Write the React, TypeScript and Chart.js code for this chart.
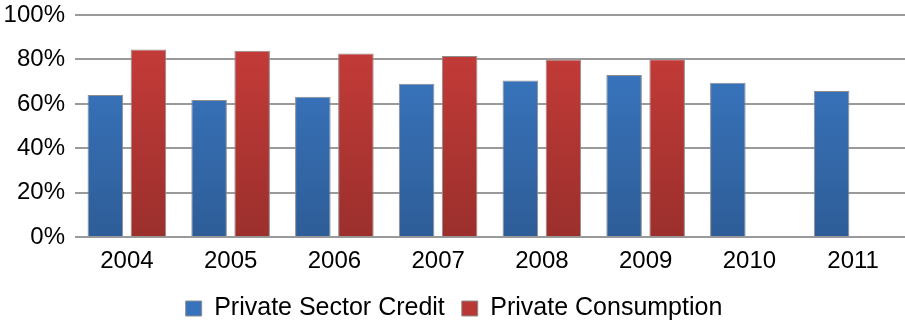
import React, { useEffect, useRef } from "react";
import { Chart, registerables } from "chart.js";

Chart.register(...registerables);

const categories = ["2004", "2005", "2006", "2007", "2008", "2009", "2010", "2011"];
const creditValues = [64.0, 61.7, 63.2, 69.1, 70.5, 73.0, 69.5, 65.8];
const consumptionValues = [84.5, 83.9, 82.7, 81.5, 80.0, 80.1, null, null];
const yTicks = [0, 20, 40, 60, 80, 100];
const seriesNames = ["Private Sector Credit", "Private Consumption"];

function makeGradient(ctx: any, area: any, top: string, bottom: string) {
  const g = ctx.createLinearGradient(0, area.top, 0, area.bottom);
  g.addColorStop(0, top);
  g.addColorStop(1, bottom);
  return g;
}

export default function App() {
  const ref = useRef<HTMLCanvasElement | null>(null);
  useEffect(() => {
    if (!ref.current) return;
    const family = "'Liberation Sans', Arial, sans-serif";
    const font = { family, size: 24 };
    const legendSwatch = ["#3773bd", "#b93835"];
    const chart = new Chart(ref.current, {
      type: "bar",
      data: {
        labels: categories,
        datasets: [
          {
            label: seriesNames[0],
            data: creditValues,
            backgroundColor: (c: any) => {
              const a = c.chart.chartArea;
              if (!a) return "#3a74bd";
              return makeGradient(c.chart.ctx, a, "#3b7bc8", "#2e5d97");
            },
            borderColor: "#8e8e8e",
            borderWidth: 1,
            categoryPercentage: 0.83,
            barPercentage: 0.826,
          },
          {
            label: seriesNames[1],
            data: consumptionValues as any,
            backgroundColor: (c: any) => {
              const a = c.chart.chartArea;
              if (!a) return "#be3a37";
              return makeGradient(c.chart.ctx, a, "#ca3d3a", "#9b2f2c");
            },
            borderColor: "#8e8e8e",
            borderWidth: 1,
            categoryPercentage: 0.83,
            barPercentage: 0.826,
          },
        ],
      },
      options: {
        animation: false,
        responsive: false,
        layout: { padding: { left: 3, right: 0, top: 0, bottom: -11 } },
        scales: {
          x: {
            grid: { display: false, drawTicks: false },
            border: { display: false },
            ticks: { color: "#000", font, padding: 10 },
          },
          y: {
            min: 0,
            max: 100,
            afterBuildTicks: (axis: any) => {
              axis.ticks = yTicks.map((v) => ({ value: v }));
            },
            afterFit: (scale: any) => {
              scale.width = 72;
              scale.paddingTop = 15;
            },
            grid: { color: "#9a9a9a", lineWidth: 2, drawTicks: false },
            border: { display: false },
            ticks: {
              color: "#000",
              font,
              padding: 10,
              callback: (v: any) => v + "%",
            },
          },
        },
        plugins: {
          legend: {
            position: "bottom",
            labels: {
              color: "#000",
              font: { family, size: 25 },
              boxWidth: 16,
              boxHeight: 15,
              padding: 10,
              generateLabels: (ch: any) =>
                ch.data.datasets.map((ds: any, i: number) => ({
                  text: i === 0 ? ds.label + " " : ds.label,
                  fillStyle: legendSwatch[i],
                  strokeStyle: "#8e8e8e",
                  lineWidth: 1,
                  fontColor: "#000",
                  hidden: false,
                  datasetIndex: i,
                })),
            },
          },
          tooltip: { enabled: false },
        },
      } as any,
    });
    return () => chart.destroy();
  }, []);
  return (
    <div style={{ position: "fixed", left: 0, top: 0, width: 905, height: 320, background: "#fff" }}>
      <canvas ref={ref} width={905} height={320} style={{ display: "block" }} />
    </div>
  );
}
